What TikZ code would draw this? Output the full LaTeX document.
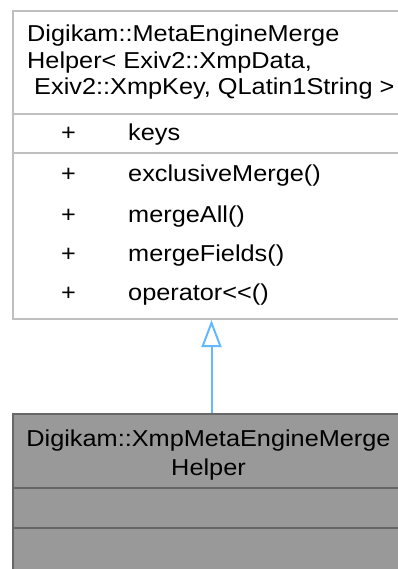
\documentclass[tikz,border=0pt]{standalone}
\usepackage{fontspec}
\setmainfont[FakeStretch=1.1]{Liberation Sans}
\usetikzlibrary{arrows.meta}
\definecolor{pborder}{HTML}{BFBFBF}
\definecolor{cfill}{HTML}{999999}
\definecolor{cborder}{HTML}{666666}
\definecolor{arrowblue}{HTML}{63B8FF}
\begin{document}
\begin{tikzpicture}[x=1pt,y=-1pt,
  txt/.style={inner sep=0pt, font=\fontsize{23}{26.5}\selectfont},
  boxp/.style={draw=pborder, fill=white, line width=2pt, anchor=north west, inner sep=0pt, minimum width=398pt},
  boxc/.style={draw=cborder, fill=cfill, line width=2pt, anchor=north west, inner sep=0pt, minimum width=398pt},
  sepp/.style={draw=pborder, line width=2pt},
  sepc/.style={draw=cborder, line width=2pt},
  inherit/.style={draw=arrowblue, line width=2pt, -{Triangle[open, length=27pt, width=20pt]}}]
\useasboundingbox (0,0) rectangle (398,569);
\clip (0,0) rectangle (398,569);
% parent class
\node[boxp, minimum height=307.5pt] (parent) at (11.5,10.5) {};
\draw[sepp] (11.5,114) -- (409.5,114);
\draw[sepp] (11.5,153) -- (409.5,153);
\node[txt, anchor=base west] (p1) at (27,42) {Digikam::MetaEngineMerge};
\node[txt, anchor=base west] (p2) at (27,68.5) {Helper< Exiv2::XmpData,};
\node[txt, anchor=base west] (p3) at (27,95) {\ Exiv2::XmpKey, QLatin1String >};
\node[txt, anchor=base] (s1) at (68.5,141) {+};
\node[txt, anchor=base west] (m1) at (128,141) {keys};
\node[txt, anchor=base] (s2) at (68.5,182) {+};
\node[txt, anchor=base west] (m2) at (128,182) {exclusiveMerge()};
\node[txt, anchor=base] (s3) at (68.5,222) {+};
\node[txt, anchor=base west] (m3) at (128,222) {mergeAll()};
\node[txt, anchor=base] (s4) at (68.5,261) {+};
\node[txt, anchor=base west] (m4) at (128,261) {mergeFields()};
\node[txt, anchor=base] (s5) at (68.5,300) {+};
\node[txt, anchor=base west] (m5) at (128,300) {operator<\kern0pt<\kern0pt()};
% child class
\node[boxc, minimum height=170pt] (child) at (11.5,413) {};
\draw[sepc] (11.5,488) -- (409.5,488);
\draw[sepc] (11.5,528) -- (409.5,528);
\node[txt, anchor=base] (c1) at (208.5,446) {Digikam::XmpMetaEngineMerge};
\node[txt, anchor=base] (c2) at (208.5,475) {Helper};
% inheritance
\draw[inherit] (child.north) -- (parent.south);
\end{tikzpicture}
\end{document}
